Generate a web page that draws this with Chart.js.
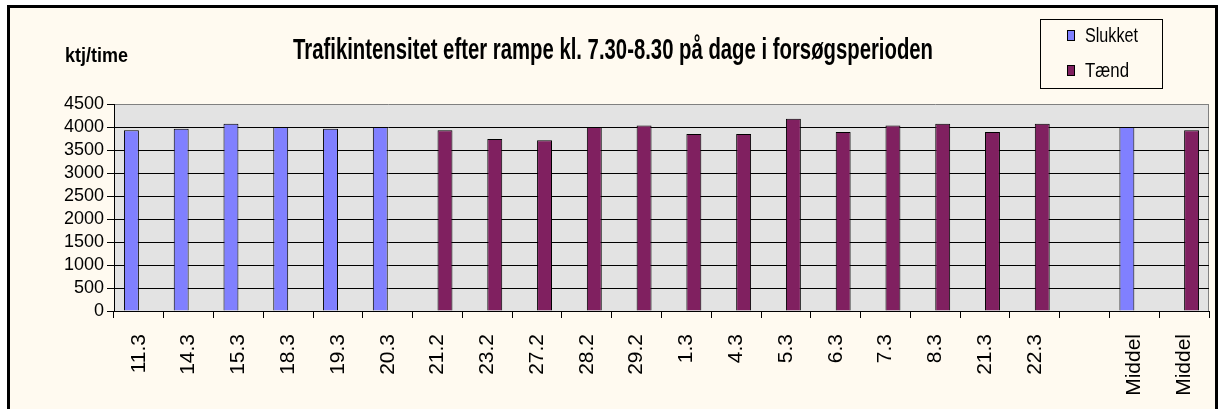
<!DOCTYPE html>
<html>
<head>
<meta charset="utf-8">
<script src="https://cdn.jsdelivr.net/npm/chart.js@4.4.1/dist/chart.umd.min.js"></script>
<style>
  html, body { margin: 0; padding: 0; background: #ffffff; }
  #wrap { position: relative; width: 1218px; height: 409px; }
</style>
</head>
<body>
<div id="wrap"><canvas id="c" width="1218" height="409"></canvas></div>
<script>
// ---- data ----
const categories = ['11.3','14.3','15.3','18.3','19.3','20.3','21.2','23.2','27.2','28.2','29.2','1.3','4.3','5.3','6.3','7.3','8.3','21.3','22.3','','Middel','Middel'];
const slukketValues = [3930,3960,4070,4000,3960,4000,null,null,null,null,null,null,null,null,null,null,null,null,null,null,4000,null];
const taendValues   = [null,null,null,null,null,null,3930,3740,3710,4000,4030,3850,3850,4180,3890,4030,4070,3890,4070,null,null,3930];
const seriesNames = ['Slukket', 'Tænd'];
const yMin = 0, yMax = 4500, yStep = 500;
const titleText = 'Trafikintensitet efter rampe kl. 7.30-8.30 på dage i forsøgsperioden';
const yUnitText = 'ktj/time';

const FONT = "'Liberation Sans', Arial, Helvetica, sans-serif";
Chart.defaults.font.family = FONT;

const frame = {
  id: 'frame',
  beforeDraw(chart) {
    const ctx = chart.ctx, a = chart.chartArea;
    ctx.save();
    ctx.fillStyle = '#ffffff';
    ctx.fillRect(0, 0, chart.width, chart.height);
    ctx.fillStyle = '#fffaf0';
    ctx.fillRect(8, 6, 1208, chart.height);
    ctx.strokeStyle = '#000';
    ctx.lineWidth = 3;
    ctx.beginPath();
    ctx.moveTo(8.5, chart.height + 5);
    ctx.lineTo(8.5, 6.5);
    ctx.lineTo(1216.5, 6.5);
    ctx.lineTo(1216.5, chart.height + 5);
    ctx.stroke();
    ctx.fillStyle = '#e3e3e3';
    ctx.fillRect(a.left, a.top, a.right - a.left, a.bottom - a.top);
    ctx.strokeStyle = '#808080';
    ctx.lineWidth = 1;
    ctx.beginPath();
    ctx.moveTo(Math.round(a.right) - 0.5, a.top);
    ctx.lineTo(Math.round(a.right) - 0.5, a.bottom);
    ctx.stroke();
    ctx.restore();
  },
  afterDraw(chart) {
    const ctx = chart.ctx;
    ctx.save();
    ctx.fillStyle = '#000';
    ctx.textBaseline = 'alphabetic';
    ctx.textAlign = 'center';
    ctx.font = 'bold 30px ' + FONT;
    ctx.fillText(titleText, 613, 59, 640);
    ctx.textAlign = 'left';
    ctx.font = 'bold 21px ' + FONT;
    ctx.fillText(yUnitText, 65, 62, 63);
    // legend
    ctx.strokeStyle = '#000';
    ctx.lineWidth = 1;
    ctx.strokeRect(1040.5, 19.5, 122, 69);
    const ys = [35, 70];
    const widths = [53, 44];
    ctx.font = '21px ' + FONT;
    ctx.textBaseline = 'middle';
    chart.data.datasets.forEach((ds, i) => {
      ctx.fillStyle = ds.backgroundColor;
      ctx.fillRect(1067, ys[i] - 5, 7, 10);
      ctx.strokeRect(1067.5, ys[i] - 4.5, 7, 10);
      ctx.fillStyle = '#000';
      ctx.fillText(ds.label, 1085, ys[i] + 1, widths[i]);
    });
    ctx.restore();
  }
};

new Chart(document.getElementById('c'), {
  type: 'bar',
  data: {
    labels: categories,
    datasets: [
      { label: seriesNames[0], data: slukketValues, backgroundColor: '#8080ff', borderColor: '#000', borderWidth: 1, categoryPercentage: 0.6, barPercentage: 1.0 },
      { label: seriesNames[1], data: taendValues, backgroundColor: '#802060', borderColor: '#000', borderWidth: 1, categoryPercentage: 0.6, barPercentage: 1.0 }
    ]
  },
  options: {
    responsive: false,
    animation: false,
    devicePixelRatio: 1,
    layout: { padding: { top: 104, right: 9, left: 0, bottom: 0 } },
    plugins: { legend: { display: false }, title: { display: false }, tooltip: { enabled: false } },
    scales: {
      x: {
        offset: true,
        grid: { display: true, drawOnChartArea: false, drawTicks: true, tickLength: 7, color: '#000', offset: true },
        border: { display: true, color: '#000', width: 1 },
        ticks: { color: '#000', font: { size: 21 }, minRotation: 90, maxRotation: 90, autoSkip: false, padding: 16 },
        afterFit(s) { s.height = 98; s.paddingLeft = 0; s.paddingRight = 0; }
      },
      y: {
        min: yMin, max: yMax,
        grid: { color: (c) => c.tick && c.tick.value === yMax ? '#808080' : '#000', tickColor: '#000', tickLength: 7, drawTicks: true },
        border: { display: true, color: '#000', width: 1 },
        ticks: { color: '#000', font: { size: 18 }, padding: 3, stepSize: yStep, autoSkip: false, callback: (v) => String(v) },
        afterFit(s) { s.width = 114; s.paddingTop = 0; s.paddingBottom = 0; }
      }
    }
  },
  plugins: [frame]
});
</script>
</body>
</html>
